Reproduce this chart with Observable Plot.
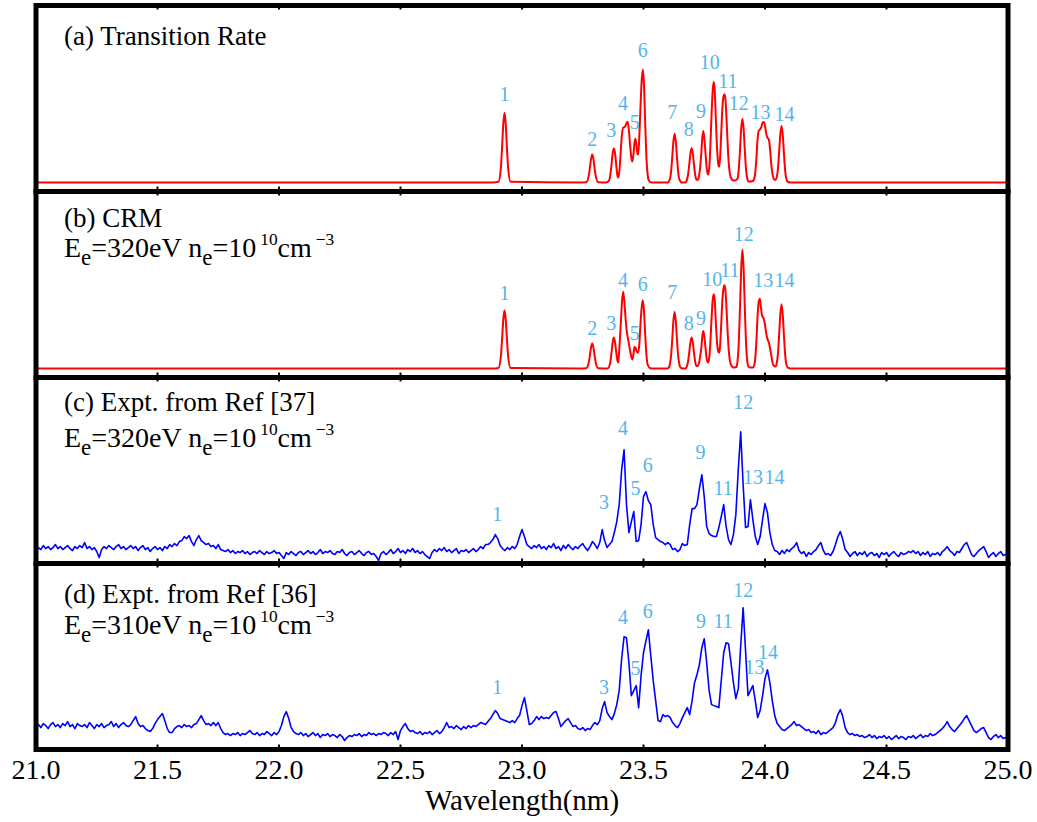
<!DOCTYPE html>
<html><head><meta charset="utf-8">
<script src="https://cdn.jsdelivr.net/npm/d3@7"></script>
<script src="https://cdn.jsdelivr.net/npm/@observablehq/plot@0.6"></script>
<style>
body{margin:0;background:#fff}
svg{display:block}
</style>
</head><body><div id="chart"></div>
<script>
// ---- data ----
const panels = ["a", "b", "c", "d"];
const xTicks = [21.0, 21.5, 22.0, 22.5, 23.0, 23.5, 24.0, 24.5, 25.0];
const innerTicks = [21.5, 22.0, 22.5, 23.0, 23.5, 24.0, 24.5];
const titles1 = ["(a) Transition Rate", "(b) CRM", "(c) Expt. from Ref [37]", "(d) Expt. from Ref [36]"];
const titles2 = ["", "E_{e}=320eV n_{e}=10^{10}cm^{\u22123}", "E_{e}=320eV n_{e}=10^{10}cm^{\u22123}", "E_{e}=310eV n_{e}=10^{10}cm^{\u22123}"];
// baseline heights of the two title lines, in panel intensity units
const title1Y = [1.382, 1.423, 1.438, 1.383];
const title2Y = [0, 1.12, 1.078, 1.07];

// (a) transition rate, red: [wavelength nm, intensity]
const specA = [
[21.00,0],[22.88,0],
[22.903,0.007],[22.913,0.147],[22.918,0.35],[22.923,0.588],[22.928,0.70],[22.933,0.588],[22.938,0.35],[22.943,0.147],[22.953,0.007],
[23.24,0],
[23.264,0.003],[23.274,0.059],[23.279,0.14],[23.284,0.235],[23.289,0.28],[23.294,0.235],[23.299,0.14],[23.304,0.059],[23.314,0.003],
[23.345,0],[23.358,0.02],[23.363,0.07],[23.368,0.17],[23.373,0.29],[23.378,0.34],[23.383,0.29],[23.388,0.17],[23.392,0.08],[23.396,0.05],
[23.401,0.12],[23.406,0.30],[23.411,0.47],[23.416,0.55],[23.421,0.555],[23.426,0.57],[23.431,0.60],[23.435,0.61],[23.440,0.52],[23.445,0.37],[23.450,0.25],[23.454,0.21],
[23.459,0.29],[23.463,0.40],[23.467,0.44],[23.471,0.37],[23.475,0.29],[23.478,0.28],[23.482,0.42],[23.487,0.72],[23.492,1.00],[23.497,1.134],[23.502,0.98],[23.507,0.60],[23.512,0.25],[23.517,0.08],[23.522,0.02],[23.532,0],
[23.598,0],[23.608,0.03],[23.613,0.10],[23.618,0.245],[23.623,0.41],[23.628,0.49],[23.633,0.41],[23.638,0.245],[23.643,0.10],[23.648,0.03],[23.658,0],
[23.673,0],[23.678,0.022],[23.683,0.073],[23.688,0.174],[23.693,0.29],[23.698,0.347],[23.703,0.29],[23.708,0.174],[23.713,0.073],[23.718,0.03],[23.723,0.025],
[23.728,0.06],[23.733,0.15],[23.738,0.30],[23.742,0.45],[23.746,0.517],[23.750,0.45],[23.755,0.30],[23.760,0.15],[23.765,0.08],
[23.770,0.13],[23.775,0.35],[23.780,0.68],[23.785,0.93],[23.789,1.007],[23.793,0.93],[23.798,0.62],[23.803,0.33],[23.808,0.18],[23.811,0.157],
[23.815,0.24],[23.820,0.50],[23.825,0.76],[23.829,0.86],[23.833,0.884],[23.837,0.84],[23.842,0.62],[23.847,0.35],[23.852,0.16],[23.858,0.06],[23.864,0.03],[23.869,0.02],
[23.877,0.02],[23.887,0.04],[23.892,0.13],[23.897,0.32],[23.902,0.54],[23.907,0.64],[23.912,0.54],[23.917,0.32],[23.922,0.13],[23.927,0.04],[23.932,0.01],[23.940,0.01],
[23.950,0.015],[23.958,0.06],[23.964,0.22],[23.969,0.42],[23.974,0.52],[23.979,0.53],[23.984,0.55],[23.990,0.60],[23.995,0.607],[24.000,0.57],[24.005,0.49],[24.010,0.45],[24.016,0.43],[24.021,0.33],[24.026,0.18],[24.032,0.07],[24.038,0.03],[24.043,0.025],
[24.048,0.05],[24.053,0.13],[24.058,0.30],[24.063,0.48],[24.068,0.567],[24.073,0.48],[24.078,0.29],[24.083,0.12],[24.088,0.035],[24.095,0.005],[24.105,0],[25.00,0]
];

// (b) CRM, red
const specB = [
[21.00,0],[22.88,0],
[22.903,0.006],[22.913,0.123],[22.918,0.292],[22.923,0.49],[22.928,0.584],[22.933,0.49],[22.938,0.292],[22.943,0.123],[22.953,0.006],
[23.24,0],
[23.264,0.003],[23.274,0.053],[23.279,0.125],[23.284,0.21],[23.289,0.25],[23.294,0.21],[23.299,0.125],[23.304,0.053],[23.314,0.003],
[23.353,0],[23.363,0.06],[23.368,0.15],[23.373,0.26],[23.378,0.31],[23.383,0.26],[23.388,0.16],[23.392,0.09],[23.396,0.06],
[23.398,0.11],[23.405,0.38],[23.411,0.65],[23.416,0.77],[23.421,0.68],[23.427,0.48],[23.432,0.36],[23.437,0.29],[23.442,0.22],[23.448,0.14],[23.454,0.09],
[23.459,0.15],[23.463,0.217],[23.467,0.21],[23.471,0.177],[23.475,0.16],[23.478,0.16],[23.483,0.25],[23.487,0.42],[23.492,0.60],[23.497,0.684],[23.502,0.58],[23.507,0.34],[23.512,0.14],[23.517,0.04],[23.524,0.01],[23.532,0],
[23.598,0],[23.603,0.007],[23.608,0.036],[23.613,0.12],[23.618,0.28],[23.623,0.476],[23.628,0.567],[23.633,0.476],[23.638,0.28],[23.643,0.12],[23.648,0.036],[23.653,0.007],[23.660,0],
[23.673,0],[23.678,0.02],[23.683,0.065],[23.688,0.155],[23.693,0.26],[23.698,0.31],[23.703,0.26],[23.708,0.155],[23.713,0.065],[23.718,0.025],[23.723,0.025],
[23.728,0.05],[23.733,0.12],[23.738,0.21],[23.742,0.32],[23.746,0.377],[23.750,0.33],[23.755,0.21],[23.760,0.10],[23.765,0.06],
[23.770,0.10],[23.775,0.25],[23.780,0.50],[23.785,0.69],[23.789,0.744],[23.793,0.69],[23.798,0.45],[23.803,0.25],[23.808,0.17],[23.811,0.16],
[23.815,0.22],[23.820,0.45],[23.825,0.70],[23.829,0.80],[23.833,0.834],[23.837,0.79],[23.842,0.58],[23.847,0.33],[23.852,0.15],[23.858,0.05],[23.864,0.02],[23.869,0.01],
[23.882,0.015],[23.887,0.075],[23.892,0.25],[23.897,0.60],[23.902,1.00],[23.907,1.194],[23.912,1.00],[23.917,0.60],[23.922,0.25],[23.927,0.075],[23.932,0.02],[23.940,0.01],
[23.950,0.01],[23.958,0.06],[23.964,0.25],[23.970,0.55],[23.975,0.68],[23.979,0.70],[23.983,0.62],[23.988,0.53],[23.995,0.50],[24.001,0.42],[24.006,0.34],[24.011,0.29],[24.016,0.26],[24.021,0.20],[24.026,0.13],[24.031,0.06],[24.036,0.03],[24.043,0.02],
[24.048,0.05],[24.053,0.14],[24.058,0.33],[24.063,0.54],[24.068,0.644],[24.073,0.54],[24.078,0.33],[24.083,0.14],[24.088,0.04],[24.095,0.006],[24.105,0],[25.00,0]
];

// (c), (d) measured, blue: intensity on a 0.01 nm grid from 21.00 nm
const gridStart = 21.00, gridStep = 0.01;
const specC = [
.04,.07,.05,.09,.06,.08,.05,.07,.10,.06,
.08,.05,.07,.09,.06,.04,.08,.06,.09,.07,
.12,.06,.08,.05,.07,.03,-.03,.05,.08,.06,
.09,.07,.05,.08,.10,.06,.08,.05,.07,.09,
.06,.08,.04,.07,.09,.05,.07,.03,.06,.08,
.05,.07,.04,.08,.06,.10,.08,.11,.09,.13,
.14,.18,.16,.19,.13,.09,.15,.19,.14,.12,
.10,.11,.08,.09,.06,.10,.05,.04,.03,.05,
.02,.04,.01,.03,.02,.04,.01,.03,.00,.02,
.03,.01,.04,.02,.00,.03,.01,.02,.04,.01,
.02,-.01,-.04,.02,.00,.03,.01,-.01,.02,.03,
.00,.02,.04,.01,.03,.00,.02,.05,.01,.03,
.02,.04,.01,.00,.03,.02,.05,.01,-.01,.02,
.03,.00,.02,.04,.01,-.01,.02,.03,.00,.01,
-.02,-.06,.01,.03,.00,.02,.05,.01,.03,.06,
.02,.04,.01,.05,.03,.06,.02,.04,.01,.03,
.00,-.02,-.04,.02,.05,.03,.06,.04,.07,.03,
.05,.02,.04,.06,.01,.04,.03,.05,.02,.04,
.06,.03,.05,.08,.06,.10,.10,.12,.15,.20,
.16,.09,.06,.04,.07,.05,.08,.06,.10,.18,
.25,.18,.10,.08,.06,.09,.07,.10,.06,.08,
.05,.09,.07,.11,.06,.08,.04,.09,.06,.10,
.07,.05,.08,.06,.09,.11,.07,.04,.08,.13,
.10,.06,.12,.25,.14,.07,.10,.13,.22,.33,
.50,.85,1.05,.50,.22,.33,.43,.13,.14,.30,
.58,.63,.54,.50,.30,.17,.15,.13,.12,.10,
.12,.10,.05,.06,.03,.05,.11,.09,.10,.30,
.46,.46,.50,.66,.80,.58,.28,.21,.19,.18,
.18,.27,.38,.50,.28,.15,.10,.20,.40,.85,
1.23,.70,.27,.28,.55,.35,.18,.10,.18,.35,
.51,.42,.22,.10,.04,.03,.00,.04,.01,.05,
.03,.06,.08,.12,.04,.01,.03,-.02,.02,.00,
.03,.05,.09,.12,.04,.00,.01,-.01,.03,.10,
.18,.23,.15,.05,.02,-.02,.01,.03,-.01,.02,
.00,.03,-.02,.01,.02,-.01,.01,-.03,.02,.00,
.02,-.02,.01,.03,.00,-.02,.02,.00,.01,.03,
.02,.04,.01,.03,-.01,.02,.00,.03,-.02,.01,
.00,.02,-.01,.03,.05,.08,.04,.02,-.01,.03,
.02,.06,.10,.12,.06,.00,-.02,.01,.04,.06,
.08,.03,-.03,.00,.02,-.02,.01,.03,-.01,.00,
.01
];
const specD = [
.14,.16,.13,.17,.15,.12,.16,.18,.14,.16,
.13,.17,.15,.19,.14,.16,.12,.17,.15,.14,
.16,.13,.18,.15,.12,.16,.14,.17,.13,.15,
.16,.19,.14,.17,.13,.16,.18,.15,.14,.16,
.20,.24,.17,.14,.15,.12,.10,.09,.12,.17,
.21,.24,.27,.20,.12,.08,.08,.12,.14,.15,
.13,.16,.14,.15,.13,.16,.17,.21,.25,.20,
.16,.17,.15,.18,.15,.18,.12,.08,.06,.07,
.05,.07,.06,.08,.05,.07,.06,.08,.10,.07,
.06,.08,.05,.07,.06,.09,.07,.05,.08,.06,
.09,.15,.24,.29,.22,.13,.09,.07,.06,.08,
.05,.07,.04,.06,.08,.05,.07,.03,.06,.05,
.07,.04,.06,.05,.03,.06,.04,.00,.03,.05,
.04,.06,.05,.07,.04,.06,.05,.08,.06,.07,
.05,.07,.06,.08,.07,.05,.08,.06,.09,.01,
.10,.14,.17,.12,.09,.10,.08,.07,.09,.06,
.08,.07,.09,.06,.08,.10,.07,.09,.13,.18,
.13,.14,.12,.15,.13,.11,.14,.12,.15,.13,
.15,.14,.16,.18,.17,.16,.19,.22,.26,.30,
.27,.22,.21,.20,.19,.18,.20,.18,.22,.25,
.35,.43,.30,.16,.17,.20,.24,.21,.24,.22,
.23,.22,.25,.28,.29,.22,.14,.17,.20,.22,
.18,.14,.15,.12,.11,.13,.10,.12,.11,.15,
.18,.16,.20,.32,.39,.28,.24,.21,.27,.36,
.50,.82,1.04,1.03,.78,.45,.50,.55,.33,.65,
.88,1.00,1.11,.85,.60,.40,.20,.19,.26,.24,
.25,.23,.18,.15,.13,.17,.23,.28,.33,.26,
.40,.58,.66,.76,.93,1.02,.78,.50,.36,.35,
.34,.33,.60,.88,.98,.97,.78,.58,.42,.52,
.95,1.33,.90,.45,.50,.55,.40,.23,.30,.45,
.62,.71,.58,.40,.25,.17,.14,.11,.10,.12,
.14,.16,.19,.15,.16,.14,.12,.10,.11,.08,
.09,.07,.10,.06,.08,.07,.09,.11,.13,.18,
.26,.31,.24,.13,.08,.06,.07,.05,.06,.04,
.05,.03,.04,.06,.03,.05,.02,.04,.03,.05,
.02,.04,.01,.03,.05,.02,.04,.03,.01,.04,
.03,.05,.02,.04,.06,.03,.05,.04,.07,.05,
.06,.08,.10,.12,.15,.19,.14,.11,.09,.12,
.15,.18,.22,.25,.20,.15,.10,.08,.10,.12,
.13,.08,.03,.01,.04,.06,.03,.05,.02,.03,
.02
];

// peak numbers: [label, wavelength, height]
const labelsA = [[1,22.928,.877],[2,23.289,.427],[3,23.367,.52],[4,23.416,.793],[5,23.464,.603],[6,23.497,1.32],[7,23.618,.70],[8,23.686,.527],[9,23.737,.71],[10,23.773,1.203],[11,23.847,1.017],[12,23.892,.793],[13,23.981,.703],[14,24.080,.677]];
const labelsB = [[1,22.928,.747],[2,23.289,.397],[3,23.367,.447],[4,23.416,.88],[5,23.464,.353],[6,23.497,.837],[7,23.618,.763],[8,23.686,.447],[9,23.737,.497],[10,23.783,.887],[11,23.855,.98],[12,23.913,1.34],[13,23.993,.88],[14,24.080,.88]];
const labelsC = [[1,22.898,.40],[3,23.337,.517],[4,23.416,1.267],[5,23.467,.657],[6,23.518,.893],[9,23.735,1.027],[11,23.828,.657],[12,23.910,1.523],[13,23.951,.773],[14,24.039,.773]];
const labelsD = [[1,22.898,.527],[3,23.337,.527],[4,23.416,1.237],[5,23.467,.717],[6,23.518,1.293],[9,23.737,1.193],[11,23.828,1.193],[12,23.910,1.503],[13,23.957,.727],[14,24.012,.883]];

// ---- tables ----
const redRows = [
  ...specA.map(([w, v]) => ({panel: "a", w, v})),
  ...specB.map(([w, v]) => ({panel: "b", w, v}))
];
const blueRows = [
  ...specC.map((v, i) => ({panel: "c", w: gridStart + i * gridStep, v})),
  ...specD.map((v, i) => ({panel: "d", w: gridStart + i * gridStep, v}))
];
const labelRows = [];
[[labelsA, "a"], [labelsB, "b"], [labelsC, "c"], [labelsD, "d"]].forEach(([arr, p]) =>
  arr.forEach(([t, w, v]) => labelRows.push({panel: p, t: String(t), w, v})));
const title1Rows = panels.map((p, i) => ({panel: p, t: titles1[i], y: title1Y[i]}));
const title2Rows = panels.map((p, i) => ({panel: p, t: titles2[i], y: title2Y[i]})).filter(d => d.t);
const axisTitleRows = [{panel: "d", t: "Wavelength(nm)"}];

const yLo = -0.09, yHi = 1.775, tickLen = 0.045;
const serif = "Liberation Serif";

const chart = Plot.plot({
  width: 1037, height: 822,
  marginLeft: 35.5, marginRight: 29.5, marginTop: 4, marginBottom: 72,
  style: {fontFamily: serif, background: "#fff", color: "#000"},
  x: {domain: [21, 25], label: null},
  y: {domain: [yLo, yHi], axis: null},
  fy: {domain: panels, padding: 0, axis: null},
  marks: [
    Plot.line(redRows, {x: "w", y: "v", fy: "panel", stroke: "#ff0000", strokeWidth: 2, curve: "monotone-x"}),
    Plot.line(blueRows, {x: "w", y: "v", fy: "panel", stroke: "#0000ff", strokeWidth: 1.6}),
    Plot.ruleX(innerTicks, {x: d => d, y1: yLo, y2: yLo + tickLen, stroke: "#000", strokeWidth: 2}),
    Plot.ruleX(innerTicks, {x: d => d, y1: yHi - tickLen, y2: yHi, stroke: "#000", strokeWidth: 2}),
    Plot.frame({stroke: "#000", strokeWidth: 5}),
    Plot.text(labelRows, {x: "w", y: "v", fy: "panel", text: "t", fill: "#56b4e9", fontSize: 20, fontFamily: serif}),
    Plot.text(title1Rows, {fy: "panel", y: "y", text: "t", frameAnchor: "left", textAnchor: "start", lineAnchor: "bottom", dx: 28, fontSize: 27, fill: "#000", fontFamily: serif}),
    Plot.text(title2Rows, {fy: "panel", y: "y", text: "t", frameAnchor: "left", textAnchor: "start", lineAnchor: "bottom", dx: 28, fontSize: 28, fill: "#000", fontFamily: serif}),
    Plot.text(axisTitleRows, {fy: "panel", text: "t", frameAnchor: "bottom", dy: 60, fontSize: 29, fill: "#000", fontFamily: serif}),
    Plot.axisX({anchor: "bottom", ticks: xTicks, tickFormat: d3.format(".1f"), tickSize: 0, tickPadding: 10, fontSize: 28, fontFamily: serif, label: null})
  ]
});

// sub/superscripts in the condition lines
const NS = "http://www.w3.org/2000/svg";
chart.querySelectorAll("text").forEach(t => {
  const s = t.textContent;
  if (!/[_^]\{/.test(s)) return;
  while (t.firstChild) t.removeChild(t.firstChild);
  const re = /([_^])\{([^}]*)\}|([^_^]+)/g;
  let m, shift = 0;
  while ((m = re.exec(s))) {
    const ts = document.createElementNS(NS, "tspan");
    if (m[3]) {
      ts.textContent = m[3];
      if (shift) ts.setAttribute("dy", -shift);
      shift = 0;
    } else if (m[1] === "_") {
      ts.textContent = m[2];
      ts.setAttribute("font-size", "0.82em");
      ts.setAttribute("dy", 8 - shift);
      shift = 8;
    } else {
      ts.textContent = m[2];
      ts.setAttribute("font-size", "0.62em");
      ts.setAttribute("dx", 4);
      ts.setAttribute("dy", -12 - shift);
      shift = -12;
    }
    t.appendChild(ts);
  }
});
document.getElementById("chart").appendChild(chart);
</script></body></html>
